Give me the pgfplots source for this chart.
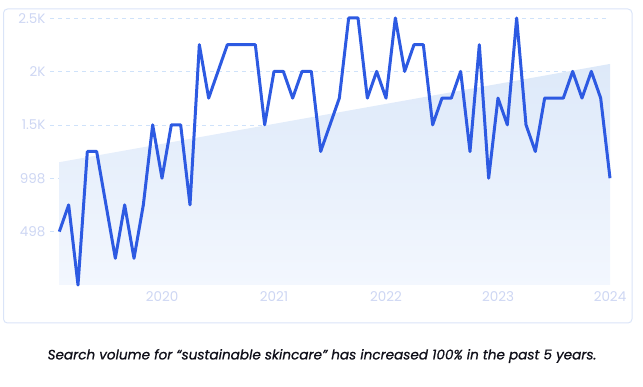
\documentclass[border=0pt]{standalone}
\usepackage{fontspec}
\setmainfont{Poppins}
\newfontfamily\capfont{Poppins}[FakeBold=0.9]
\usepackage{pgfplots}
\pgfplotsset{compat=1.18}
\definecolor{linec}{RGB}{45,90,226}
\definecolor{tickc}{RGB}{205,214,243}
\definecolor{gridc}{RGB}{207,226,250}
\definecolor{borderc}{RGB}{218,228,248}
\definecolor{fillA}{RGB}{221,233,249}
\definecolor{fillB}{RGB}{243,247,254}
\definecolor{capc}{RGB}{15,15,25}
\begin{document}
\begin{tikzpicture}
\path[use as bounding box] (0,0) rectangle (643bp,387bp);
\draw[borderc, line width=1bp, rounded corners=4bp] (3.5bp,64bp) rectangle (632bp,378bp);
\begin{axis}[
  at={(50bp,102bp)}, anchor=south west,
  scale only axis, width=560bp, height=267bp,
  xmin=-1, xmax=59, ymin=0, ymax=2500,
  clip=false,
  axis line style={draw=none},
  major tick length=0pt,
  xtick={11,23,35,47,59},
  xticklabels={2020,2021,2022,2023,2024},
  ytick={498,998,1498,1998,2498},
  yticklabels={498,998,1.5K,2K,2.5K},
  ymajorgrids,
  grid style={gridc, dashed, line width=0.8bp, dash pattern=on 4bp off 4bp},
  tick label style={tickc, font=\fontsize{13.5bp}{15bp}\selectfont},
  /pgf/number format/assume math mode=true,
  yticklabel style={xshift=-1bp},
  xticklabel style={yshift=-3bp},
]
\addplot[draw=none, left color=fillA, right color=fillB, shading angle=0] coordinates {(0,0) (0,1150) (59,2070) (59,0)} -- cycle;
\addplot[linec, line width=3bp, line join=round] coordinates {
(0,500) (1,750) (2,0) (3,1250) (4,1250) (5,750) (6,250) (7,750) (8,250) (9,750)
(10,1500) (11,1000) (12,1500) (13,1500) (14,750) (15,2250) (16,1750) (17,2000) (18,2250) (19,2250)
(20,2250) (21,2250) (22,1500) (23,2000) (24,2000) (25,1750) (26,2000) (27,2000) (28,1250) (29,1500)
(30,1750) (31,2500) (32,2500) (33,1750) (34,2000) (35,1750) (36,2500) (37,2000) (38,2250) (39,2250)
(40,1500) (41,1750) (42,1750) (43,2000) (44,1250) (45,2250) (46,1000) (47,1750) (48,1500) (49,2500)
(50,1500) (51,1250) (52,1750) (53,1750) (54,1750) (55,2000) (56,1750) (57,2000) (58,1750) (59,1000)
};
\end{axis}
\node[capc, font=\fontsize{13.6bp}{16bp}\capfont\itshape] at (322bp,31bp) {Search volume for “sustainable skincare” has increased 100\% in the past 5 years.};
\end{tikzpicture}
\end{document}
